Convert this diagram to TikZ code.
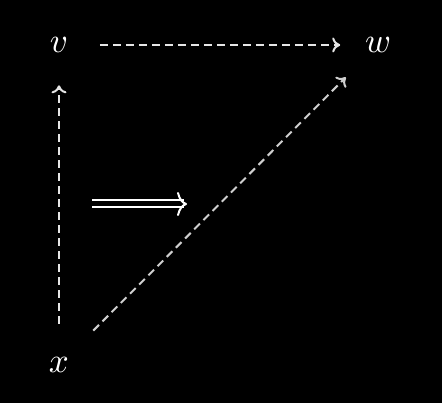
\documentclass[tikz,border=0pt]{standalone}
\usetikzlibrary{arrows.meta}
\definecolor{linegray}{HTML}{E6E6E6}
\tikzset{
  obj/.style={text=white, font=\normalsize, scale=3.5, inner sep=0.6pt},
  morph/.style={draw=linegray, line width=2pt, dash pattern=on 8pt off 5pt,
     -{Computer Modern Rightarrow[length=8pt,width=15pt,line width=2pt]}},
  twocell/.style={draw=white, line width=2pt, double=black, double distance=5pt, shorten >=3pt},
  twotip/.style={draw=white, line width=2pt,
     -{Computer Modern Rightarrow[length=10pt,width=24pt,line width=2pt]}}
}
\begin{document}
\begin{tikzpicture}[x=1pt,y=-1pt]
\fill[black] (0,0) rectangle (442,403);
\useasboundingbox (0,0) rectangle (442,403);
\node[obj] (v) at (59,45) {$v$};
\node[obj] (w) at (378,45) {$w$};
\node[obj] (x) at (59,365) {$x$};
\draw[morph, shorten <=29pt, shorten >=22pt] (v) -- (w);
\draw[morph, shorten <=31pt, shorten >=30pt] (x) -- (v);
\draw[morph, draw=linegray!90!black, shorten <=34pt, shorten >=31pt] (x) -- (w);
\coordinate (a) at (92,204);
\coordinate (b) at (187,204);
\coordinate (bt) at (186,204);
\draw[twocell] (a) -- (b);
\draw[twotip] (bt) -- (b);
\end{tikzpicture}
\end{document}
